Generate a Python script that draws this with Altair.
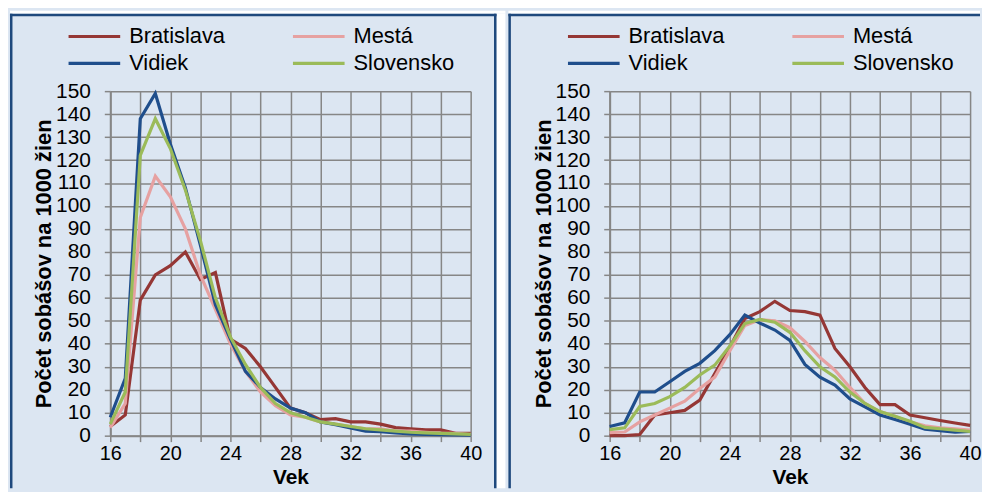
import altair as alt
import pandas as pd

FONT = "Liberation Sans"
BG = "#dce6f2"
BORDER = "#1f497d"
GRID = "#868686"

ages = list(range(16, 41))
series = ["Bratislava", "Mestá", "Vidiek", "Slovensko"]
colors = ["#953735", "#e6a1a1", "#1f4e8c", "#9bbb59"]
legend_order = ["Bratislava", "Vidiek", "Mestá", "Slovensko"]

x_ticks = list(range(16, 41, 2))
y_ticks = list(range(0, 151, 10))

# left panel
left_bratislava = [4, 9, 59, 70, 74, 80, 68, 71, 42, 38, 30, 21, 12, 10, 7, 7.4, 6, 6, 5, 3.5, 3, 2.5, 2.5, 1, 1]
left_mesta = [3.5, 14, 95, 113, 104, 90, 70, 55, 40, 28, 19, 13, 9, 8, 6, 5, 4, 3, 3, 2, 2, 1.5, 1, 1, 0.5]
left_vidiek = [8, 25, 138, 149, 127, 108, 83, 57, 42, 28, 21, 16, 12, 10, 6, 4.8, 3.4, 2, 1.7, 1.2, 0.8, 0.6, 0.4, 0.3, 0.2]
left_slovensko = [5, 19, 122, 138, 125, 107, 85, 60, 43, 31, 21, 14, 10, 8, 6, 5, 4, 3, 2.5, 2, 1.5, 1.2, 1, 0.8, 0.6]

# right panel
right_bratislava = [0, 0, 0.5, 9, 10, 11, 15.5, 27, 38.5, 51, 54, 58.5, 54.5, 54, 52.5, 38, 30, 21, 13.5, 13.5, 9, 7.8, 6.6, 5.5, 4.5]
right_mesta = [1.3, 1.6, 6, 9, 12, 15, 20.5, 25.5, 37, 48, 50.5, 50, 47, 41, 34, 28.5, 21, 14, 10.5, 8.5, 6, 4.3, 3.4, 3, 2.4]
right_vidiek = [4, 5.6, 19, 19, 23.5, 28, 31.5, 37, 44, 52.5, 49, 46, 41.5, 31, 25.5, 22, 16, 12.5, 9, 7, 5, 2.8, 2.2, 1.5, 1.8]
right_slovensko = [2.6, 3.4, 12.7, 14, 17, 21, 26.4, 30.7, 39, 48.8, 50.6, 49.4, 45, 37, 30, 25.6, 19, 14, 10.5, 8.5, 6.3, 3.6, 3, 2.4, 1.8]

W, H = 363, 347
TOP, BOTTOM = -78, 400
BW = 2.5

xscale = alt.Scale(domain=[16, 40], nice=False, zero=False)
yscale = alt.Scale(domain=[0, 150], nice=False)


def make_panel(vals, rx1, rx2, right_border, gap):
    rows = []
    for s, arr in zip(series, vals):
        for a, v in zip(ages, arr):
            rows.append({"Vek": a, "Hodnota": v, "Séria": s})
    df = pd.DataFrame(rows)
    one = pd.DataFrame({"k": [0]})

    layers = []
    # white strip above the panel
    layers.append(alt.Chart(one).mark_rect(fill="white").encode(
        x=alt.value(rx1), x2=alt.value(rx2 + gap), y=alt.value(TOP - 3), y2=alt.value(TOP)))
    if gap:
        layers.append(alt.Chart(one).mark_rect(fill="white").encode(
            x=alt.value(rx2), x2=alt.value(rx2 + gap), y=alt.value(TOP), y2=alt.value(BOTTOM)))
    layers.append(alt.Chart(one).mark_rule(color=BORDER, strokeWidth=BW).encode(
        x=alt.value(rx1), x2=alt.value(rx2), y=alt.value(TOP + BW / 2)))
    layers.append(alt.Chart(one).mark_rule(color=BORDER, strokeWidth=BW).encode(
        x=alt.value(rx1 + BW / 2), y=alt.value(TOP), y2=alt.value(BOTTOM)))
    if right_border:
        layers.append(alt.Chart(one).mark_rule(color=BORDER, strokeWidth=BW).encode(
            x=alt.value(rx2 - BW / 2), y=alt.value(TOP), y2=alt.value(BOTTOM)))

    xaxis = alt.Axis(values=x_ticks, labelExpr="datum.value % 4 == 0 ? datum.label : ''",
                     title="Vek", titleFont=FONT, titleFontSize=21, titleFontWeight="bold",
                     titleColor="black", labelFont=FONT, labelFontSize=20, labelColor="black",
                     tickColor=GRID, tickSize=6, tickWidth=1.5, domainColor=GRID, domainWidth=2,
                     labelPadding=2, titleY=31, grid=True, gridColor=GRID, gridWidth=1.5,
                     gridOpacity=1, labelFlush=False, labelOverlap=False)
    yaxis = alt.Axis(values=y_ticks, title="Počet sobášov na 1000 žien", titleFont=FONT,
                     titleFontSize=22, titleFontWeight="bold", titleColor="black",
                     labelFont=FONT, labelFontSize=21, labelColor="black", tickColor=GRID,
                     tickSize=6, tickWidth=1.5, domainColor=GRID, domainWidth=2,
                     labelPadding=14, grid=True, gridColor=GRID, gridWidth=1.5, gridOpacity=1,
                     labelOverlap=False, titleX=-55)

    lines = alt.Chart(df).mark_line(strokeWidth=3.2).encode(
        x=alt.X("Vek:Q", scale=xscale, axis=xaxis),
        y=alt.Y("Hodnota:Q", scale=yscale, axis=yaxis),
        color=alt.Color("Séria:N", scale=alt.Scale(domain=legend_order,
                                                   range=[colors[series.index(s)] for s in legend_order]),
                        legend=alt.Legend(orient="none", legendX=-44, legendY=-66, columns=2,
                                          symbolType="stroke", symbolStrokeWidth=3.2,
                                          symbolSize=2704, labelFont=FONT, labelFontSize=22,
                                          labelColor="black", title=None, columnPadding=66,
                                          rowPadding=5, clipHeight=22, padding=0,
                                          labelOffset=7, labelLimit=300)),
        detail="Séria:N",
    )
    layers.append(lines)
    return alt.layer(*layers).properties(width=W, height=H)


left = make_panel([left_bratislava, left_mesta, left_vidiek, left_slovensko], -101, 389, True, 9)
right = make_panel([right_bratislava, right_mesta, right_vidiek, right_slovensko], -102, 373, False, 0)

chart = alt.hconcat(left, right, spacing=0).resolve_scale(color="independent").resolve_legend(
    color="independent").properties(padding={"left": 0, "top": 0, "right": 0, "bottom": 0}
).configure_view(strokeWidth=0, fill="white").configure(background=BG)

chart.save("out.html", embed_options={"renderer": "svg", "actions": False})
